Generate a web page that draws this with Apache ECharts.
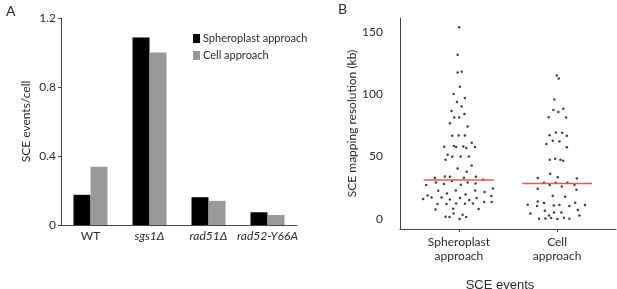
<!DOCTYPE html>
<html>
<head>
<meta charset="utf-8">
<script src="https://cdn.jsdelivr.net/npm/echarts@6/dist/echarts.min.js"></script>
<style>
  html, body { margin: 0; padding: 0; background: #fff; }
  #chart { width: 617px; height: 289px; }
</style>
</head>
<body>
<div id="chart"></div>
<script>
// panel A: SCE events per cell
var strains = ['WT', 'sgs1Δ', 'rad51Δ', 'rad52-Y66A'];
var spheroplastRate = [0.175, 1.087, 0.161, 0.074];
var cellRate = [0.338, 1.0, 0.14, 0.058];

// panel B: mapping resolution (kb), jitter = horizontal spread in category units
var groups = ['Spheroplast\napproach', 'Cell\napproach'];
var sphValues = [153.6,131.6,117.3,118,106,100.2,97,93.8,90.2,86.5,84.2,81.3,81.3,76.8,74.1,66.6,66.9,66.9,61,
  57.8,58.4,57.6,58.1,56.8,57.6,51.4,49.8,50.1,50.1,47.4,42.9,40.5,37.8,34.1,33.8,33,33.8,32.8,31.4,
  27.2,29.3,28,30.4,27.4,29.3,28.5,24.5,22.6,20.5,22.9,19.7,22.9,21.6,18.9,16,17.3,17.3,15.7,16.8,15.2,16.8,18.4,
  13.6,12,12,12.5,12.2,12.5,13.6,7.7,8.2,8,1.8,1.6,4.5,0,3.4,1.6];
var sphJitter = [0.003,-0.013,-0.013,0.028,0.01,-0.054,0.061,-0.02,0.028,-0.075,0.056,-0.048,0.003,-0.091,0.089,-0.068,-0.003,0.061,0.13,
  -0.150,-0.051,-0.028,0.044,0.075,0.163,-0.115,-0.068,0.017,0.102,-0.136,0.13,-0.013,0.079,-0.143,-0.092,0.051,0.173,-0.245,0.248,
  -0.334,-0.235,-0.153,-0.071,0.02,0.089,0.17,0.347,-0.211,-0.122,-0.031,0.068,0.166,0.262,-0.319,-0.364,-0.279,-0.177,-0.092,0.01,0.105,0.18,0.33,
  0.334,-0.218,-0.126,-0.028,0.061,0.143,0.258,-0.238,-0.058,0.201,-0.136,-0.095,-0.054,0.007,0.038,0.074];
var cellValues = [115,112.5,95.7,88.3,87.4,85.8,81.6,81.3,69.2,69,67,66.7,62.6,62.1,60,57.5,47.4,48.2,47.4,46.6,
  36.2,32.8,33.4,32.5,29,29,29,27.2,26.1,27.4,24.2,23.4,18.6,17.8,14.1,12.8,13,11.4,10.4,10.9,11.2,10.4,11.2,
  6.6,5.3,5.3,7.2,4.5,2.9,2.9,0.2,0.5,0.8,0,1,0.2];
var cellJitter = [-0.003,0.017,-0.028,0.064,-0.038,0.013,-0.085,0.092,-0.013,0.051,-0.077,0.099,-0.044,0.024,-0.109,0.099,
  -0.075,-0.02,0.034,0.061,-0.071,-0.197,0.007,0.201,-0.133,-0.013,0.105,-0.075,0.048,0.177,-0.197,0.197,-0.044,0.082,
  -0.197,-0.133,0.184,-0.299,-0.204,-0.034,0.024,0.125,0.284,-0.125,-0.031,0.044,0.211,-0.272,0.227,-0.082,-0.184,-0.119,-0.061,0.003,0.069,0.125];
var medians = [31.2, 28.5];

var italic = { 'sgs1Δ': 1, 'rad51Δ': 1, 'rad52-Y66A': 1 };
var font = 'Lato, "Open Sans", sans-serif';
var txt = '#2b2b2b';
var axisCol = '#444';

function points(values, jitter, pos) {
  return values.map(function (v, i) { return [pos + jitter[i], v]; });
}

var myChart = echarts.init(document.getElementById('chart'), null, { renderer: 'canvas' });

var medianSeries = medians.map(function (m, i) {
  return {
    type: 'line', xAxisIndex: 1, yAxisIndex: 1, symbol: 'none', silent: true, z: 3,
    lineStyle: { color: '#e05a5a', width: 1.5 },
    data: [[i + 1 - 0.355, m], [i + 1 + 0.355, m]]
  };
});

var option = {
  animation: false,
  textStyle: { fontFamily: font },
  title: [
    { text: 'A', left: 1, top: -1, textStyle: { fontSize: 14, fontWeight: 'normal', color: txt, fontFamily: font } },
    { text: 'B', left: 333, top: -3, textStyle: { fontSize: 14, fontWeight: 'normal', color: txt, fontFamily: font } }
  ],
  legend: {
    data: ['Spheroplast approach', 'Cell approach'],
    orient: 'vertical', left: 188, top: 28, itemGap: 6,
    itemWidth: 7, itemHeight: 9, icon: 'rect',
    textStyle: { fontSize: 11, color: txt, fontFamily: font, padding: [0, 0, 0, -2] }
  },
  grid: [
    { left: 61, top: 18, right: 320, bottom: 64, outerBoundsMode: 'none', containLabel: false },
    { left: 400, top: 18, right: 1, bottom: 60, outerBoundsMode: 'none', containLabel: false }
  ],
  xAxis: [
    {
      gridIndex: 0, type: 'category', data: strains,
      axisLine: { lineStyle: { color: axisCol, width: 1 } },
      axisTick: { length: 4, lineStyle: { color: axisCol } },
      axisLabel: {
        interval: 0, hideOverlap: false, margin: 5, fontSize: 12, color: txt, fontFamily: font,
        formatter: function (v) { return italic[v] ? '{i|' + v + '}' : v; },
        rich: { i: { fontStyle: 'italic', fontSize: 12, color: txt, fontFamily: font } }
      }
    },
    {
      gridIndex: 1, type: 'value', min: 0.4, max: 2.6,
      splitLine: { show: false },
      axisLine: { onZero: false, lineStyle: { color: axisCol, width: 1 } },
      axisTick: { show: true, length: 3, customValues: [1, 2], lineStyle: { color: axisCol } },
      axisLabel: {
        customValues: [1, 2], margin: 6, fontSize: 12, lineHeight: 14, color: txt, fontFamily: font,
        formatter: function (v) { return groups[Math.round(v) - 1]; }
      },
      name: 'SCE events', nameLocation: 'middle', nameGap: 50,
      nameTextStyle: { fontSize: 13, color: txt, fontFamily: '"Liberation Sans", Arial, sans-serif', padding: [0, 16, 0, 0] }
    }
  ],
  yAxis: [
    {
      gridIndex: 0, type: 'value', min: 0, max: 1.2, interval: 0.4,
      splitLine: { show: false },
      axisLine: { show: true, lineStyle: { color: axisCol, width: 1 } },
      axisTick: { show: true, length: 3, lineStyle: { color: axisCol } },
      axisLabel: { margin: 5, fontSize: 12, color: txt, fontFamily: font },
      name: 'SCE events/cell', nameLocation: 'middle', nameGap: 29,
      nameTextStyle: { fontSize: 12, color: txt, fontFamily: font }
    },
    {
      gridIndex: 1, type: 'value', min: -8, max: 161,
      splitLine: { show: false },
      axisLine: { show: true, onZero: false, lineStyle: { color: axisCol, width: 1 } },
      axisTick: { show: false },
      axisLabel: { customValues: [0, 50, 100, 150], margin: 17, fontSize: 12, color: txt, fontFamily: font },
      name: 'SCE mapping resolution (kb)', nameLocation: 'middle', nameGap: 27,
      nameTextStyle: { fontSize: 12, color: txt, fontFamily: font }
    }
  ],
  series: [
    {
      name: 'Spheroplast approach', type: 'bar', xAxisIndex: 0, yAxisIndex: 0,
      barWidth: 17, barGap: '0%', itemStyle: { color: '#000' }, data: spheroplastRate
    },
    {
      name: 'Cell approach', type: 'bar', xAxisIndex: 0, yAxisIndex: 0,
      barWidth: 17, barGap: '0%', itemStyle: { color: '#999' }, data: cellRate
    },
    {
      type: 'scatter', xAxisIndex: 1, yAxisIndex: 1, symbolSize: 2.5,
      itemStyle: { color: '#111' }, data: points(sphValues, sphJitter, 1)
    },
    {
      type: 'scatter', xAxisIndex: 1, yAxisIndex: 1, symbolSize: 2.5,
      itemStyle: { color: '#111' }, data: points(cellValues, cellJitter, 2)
    }
  ].concat(medianSeries)
};

myChart.setOption(option);
</script>
</body>
</html>
